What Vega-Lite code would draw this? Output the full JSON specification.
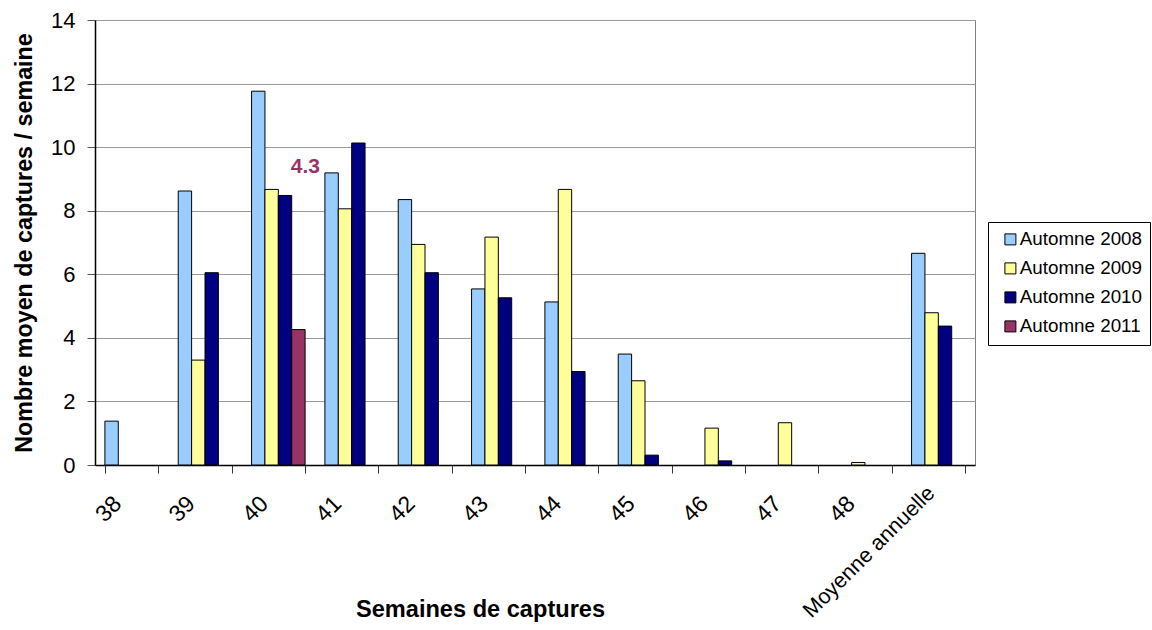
{
  "$schema": "https://vega.github.io/schema/vega-lite/v6.json",
  "width": 880,
  "height": 445,
  "autosize": {"type": "none"},
  "padding": {"left": 95, "top": 20, "right": 177, "bottom": 165},
  "background": "white",
  "config": {
    "font": "Liberation Sans",
    "view": {"stroke": "#808080", "strokeWidth": 1}
  },
  "data": {
    "values": [
      {"week": "38", "series": "Automne 2008", "value": 1.38},
      {"week": "39", "series": "Automne 2008", "value": 8.62},
      {"week": "39", "series": "Automne 2009", "value": 3.3},
      {"week": "39", "series": "Automne 2010", "value": 6.05},
      {"week": "40", "series": "Automne 2008", "value": 11.76},
      {"week": "40", "series": "Automne 2009", "value": 8.67},
      {"week": "40", "series": "Automne 2010", "value": 8.48},
      {"week": "40", "series": "Automne 2011", "value": 4.26, "label": "4.3"},
      {"week": "41", "series": "Automne 2008", "value": 9.19},
      {"week": "41", "series": "Automne 2009", "value": 8.06},
      {"week": "41", "series": "Automne 2010", "value": 10.13},
      {"week": "42", "series": "Automne 2008", "value": 8.35},
      {"week": "42", "series": "Automne 2009", "value": 6.94},
      {"week": "42", "series": "Automne 2010", "value": 6.05},
      {"week": "43", "series": "Automne 2008", "value": 5.54},
      {"week": "43", "series": "Automne 2009", "value": 7.17},
      {"week": "43", "series": "Automne 2010", "value": 5.26},
      {"week": "44", "series": "Automne 2008", "value": 5.13},
      {"week": "44", "series": "Automne 2009", "value": 8.67},
      {"week": "44", "series": "Automne 2010", "value": 2.94},
      {"week": "45", "series": "Automne 2008", "value": 3.49},
      {"week": "45", "series": "Automne 2009", "value": 2.65},
      {"week": "45", "series": "Automne 2010", "value": 0.31},
      {"week": "46", "series": "Automne 2009", "value": 1.16},
      {"week": "46", "series": "Automne 2010", "value": 0.13},
      {"week": "47", "series": "Automne 2009", "value": 1.33},
      {"week": "48", "series": "Automne 2009", "value": 0.08},
      {"week": "Moyenne annuelle", "series": "Automne 2008", "value": 6.66},
      {"week": "Moyenne annuelle", "series": "Automne 2009", "value": 4.79},
      {"week": "Moyenne annuelle", "series": "Automne 2010", "value": 4.37}
    ]
  },
  "encoding": {
    "x": {
      "field": "week",
      "type": "nominal",
      "sort": ["38", "39", "40", "41", "42", "43", "44", "45", "46", "47", "48", "Moyenne annuelle"],
      "scale": {
        "domain": ["38", "39", "40", "41", "42", "43", "44", "45", "46", "47", "48", "Moyenne annuelle"],
        "paddingInner": 0.27,
        "paddingOuter": 0.135
      },
      "axis": {
        "title": "Semaines de captures",
        "titleFontSize": 23.6,
        "titleFontWeight": "bold",
        "titleColor": "black",
        "titleX": 385,
        "titleY": 144,
        "titleBaseline": "middle",
        "labelAngle": -45,
        "labelFontSize": {"condition": {"test": "datum.value === 'Moyenne annuelle'", "value": 21.5}, "value": 23},
        "labelColor": "black",
        "labelLimit": 400,
        "labelPadding": {"condition": {"test": "datum.value === 'Moyenne annuelle'", "value": 9}, "value": 19},
        "labelOffset": {"condition": {"test": "datum.value === 'Moyenne annuelle'", "value": -15}, "value": -22},
        "tickBand": "extent",
        "tickSize": 8,
        "tickColor": "#333",
        "domainColor": "black",
        "domainWidth": 1.5,
        "grid": false
      }
    },
    "xOffset": {
      "field": "series",
      "type": "nominal",
      "scale": {"domain": ["Automne 2008", "Automne 2009", "Automne 2010", "Automne 2011"], "paddingInner": 0, "paddingOuter": 0}
    },
    "y": {
      "field": "value",
      "type": "quantitative",
      "scale": {"domain": [0, 14], "nice": false},
      "axis": {
        "title": "Nombre moyen de captures / semaine",
        "titleFontSize": 23.3,
        "titleFontWeight": "bold",
        "titleColor": "black",
        "titlePadding": 14,
        "values": [0, 2, 4, 6, 8, 10, 12, 14],
        "labelFontSize": 22,
        "labelColor": "black",
        "labelPadding": 12,
        "tickSize": 8,
        "tickColor": "#555",
        "domainColor": "black",
        "domainWidth": 1.5,
        "gridColor": "#999",
        "gridWidth": 1
      }
    }
  },
  "layer": [
    {
      "mark": {"type": "bar", "stroke": "black", "strokeWidth": 1},
      "encoding": {
        "color": {
          "field": "series",
          "type": "nominal",
          "scale": {
            "domain": ["Automne 2008", "Automne 2009", "Automne 2010", "Automne 2011"],
            "range": ["#99CCFF", "#FFFF99", "#000080", "#993366"]
          },
          "legend": {
            "title": null,
            "orient": "none",
            "legendX": 893,
            "legendY": 202,
            "padding": 8,
            "strokeColor": "black",
            "fillColor": "white",
            "symbolType": "square",
            "symbolSize": 121,
            "symbolStrokeColor": "black",
            "symbolStrokeWidth": 1,
            "symbolOffset": 5,
            "labelFontSize": 18.8,
            "labelColor": "black",
            "labelOffset": 0,
            "rowPadding": 9,
            "labelLimit": 300
          }
        }
      }
    },
    {
      "transform": [{"filter": "isValid(datum.label)"}],
      "mark": {"type": "text", "fontSize": 21, "fontWeight": "bold", "color": "#993366", "dx": 7, "dy": -163, "baseline": "middle", "align": "center"},
      "encoding": {"text": {"field": "label"}}
    }
  ]
}
